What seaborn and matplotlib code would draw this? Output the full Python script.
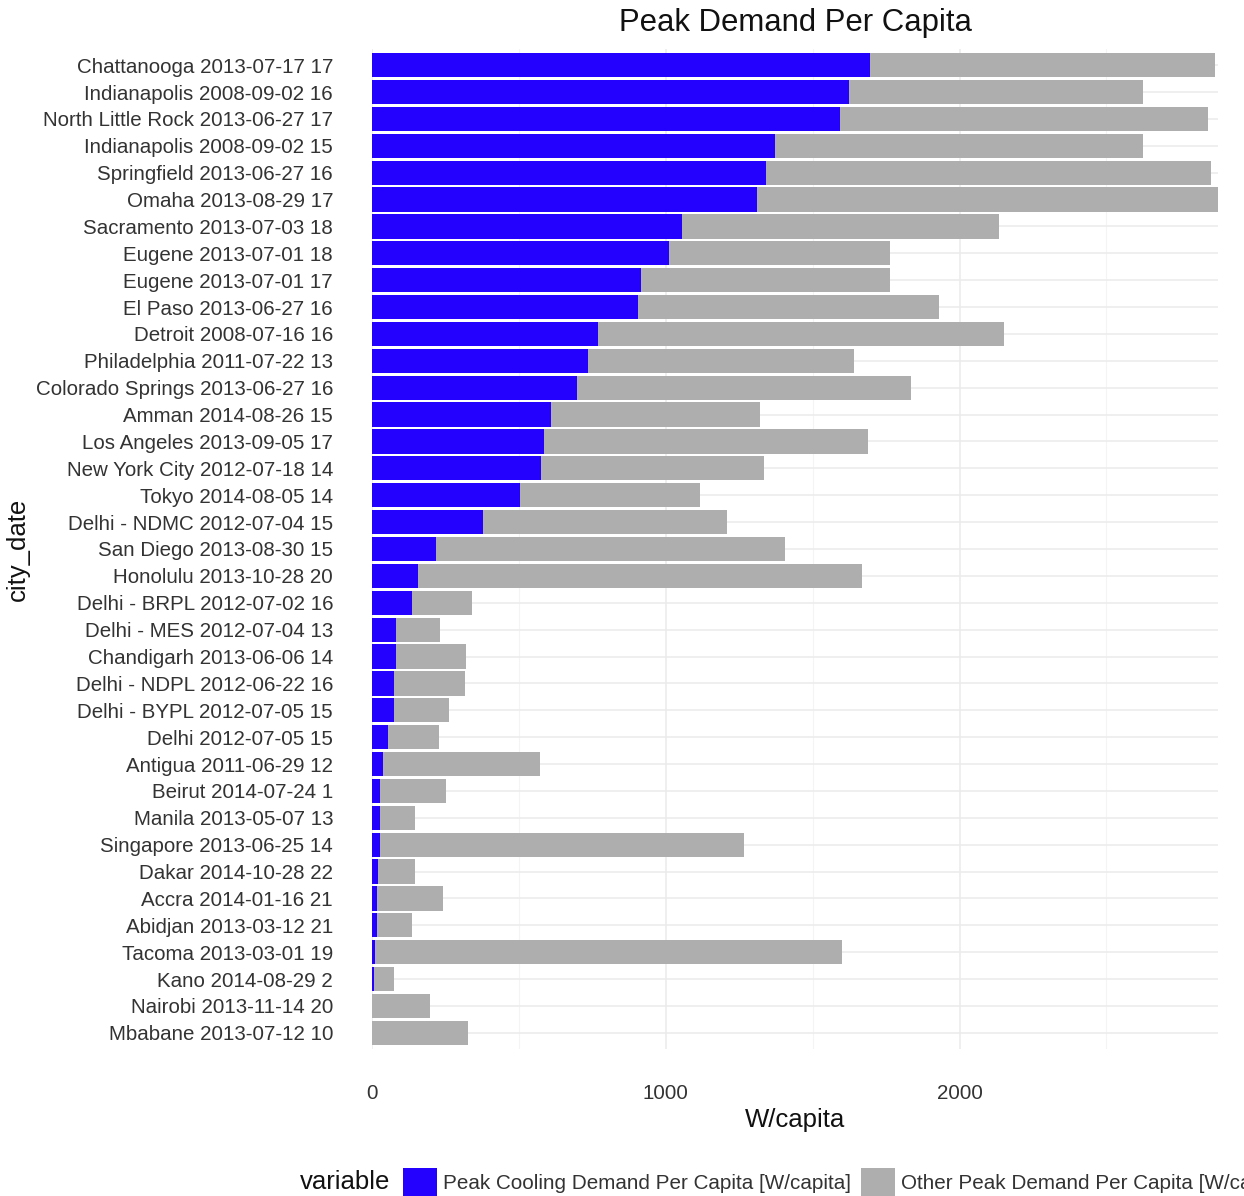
import matplotlib
matplotlib.use("Agg")
import matplotlib.pyplot as plt
from matplotlib.patches import Patch
from matplotlib.ticker import MultipleLocator
import numpy as np
import pandas as pd
import seaborn as sns

# City / date / hour of the peak, top to bottom
city_date = [
    "Chattanooga 2013-07-17 17", "Indianapolis 2008-09-02 16",
    "North Little Rock 2013-06-27 17", "Indianapolis 2008-09-02 15",
    "Springfield 2013-06-27 16", "Omaha 2013-08-29 17",
    "Sacramento 2013-07-03 18", "Eugene 2013-07-01 18",
    "Eugene 2013-07-01 17", "El Paso 2013-06-27 16",
    "Detroit 2008-07-16 16", "Philadelphia 2011-07-22 13",
    "Colorado Springs 2013-06-27 16", "Amman 2014-08-26 15",
    "Los Angeles 2013-09-05 17", "New York City 2012-07-18 14",
    "Tokyo 2014-08-05 14", "Delhi - NDMC 2012-07-04 15",
    "San Diego 2013-08-30 15", "Honolulu 2013-10-28 20",
    "Delhi - BRPL 2012-07-02 16", "Delhi - MES 2012-07-04 13",
    "Chandigarh 2013-06-06 14", "Delhi - NDPL 2012-06-22 16",
    "Delhi - BYPL 2012-07-05 15", "Delhi 2012-07-05 15",
    "Antigua 2011-06-29 12", "Beirut 2014-07-24 1",
    "Manila 2013-05-07 13", "Singapore 2013-06-25 14",
    "Dakar 2014-10-28 22", "Accra 2014-01-16 21",
    "Abidjan 2013-03-12 21", "Tacoma 2013-03-01 19",
    "Kano 2014-08-29 2", "Nairobi 2013-11-14 20",
    "Mbabane 2013-07-12 10",
]

# Peak cooling demand per capita [W/capita]
cooling = [
    1694, 1623, 1593, 1371, 1340, 1309, 1056, 1011, 917, 906,
    769, 736, 697, 610, 586, 576, 505, 378, 219, 158,
    137, 82, 82, 76, 76, 56, 38, 27, 27, 27,
    21, 17, 17, 11, 6, 0, 0,
]

# Remaining (non-cooling) peak demand per capita [W/capita]
other = [
    1176, 1002, 1253, 1254, 1516, 1571, 1079, 753, 847, 1025,
    1381, 906, 1139, 710, 1102, 758, 610, 832, 1187, 1511,
    202, 149, 239, 241, 186, 173, 533, 225, 120, 1239,
    126, 224, 119, 1589, 69, 196, 327,
]

legend_labels = [
    "Peak Cooling Demand Per Capita [W/capita]",
    "Other Peak Demand Per Capita [W/capita]",
]

df = pd.DataFrame({"city_date": city_date, "cooling": cooling, "other": other})
df["total"] = df["cooling"] + df["other"]

BLUE = "#2400FF"
GRAY = "#AEAEAE"
TEXT = "#333333"

sns.set_theme(style="white")
plt.rcParams["font.family"] = ["Liberation Sans", "DejaVu Sans"]

W, H = 1244, 1196
fig = plt.figure(figsize=(W / 100, H / 100), dpi=100)
fig.patch.set_facecolor("white")

left, right, top, bottom = 372, 1218, 49, 1049
ax = fig.add_axes([left / W, 1 - bottom / H, (right - left) / W, (bottom - top) / H])

# Stacked bars: full total in gray, cooling share drawn over it in blue
sns.barplot(data=df, y="city_date", x="total", order=city_date, orient="h",
            color=GRAY, saturation=1, width=0.9, ax=ax, errorbar=None)
sns.barplot(data=df, y="city_date", x="cooling", order=city_date, orient="h",
            color=BLUE, saturation=1, width=0.9, ax=ax, errorbar=None)
for p in ax.patches:
    p.set_edgecolor("none")

n = len(city_date)
ax.set_ylim(n - 1 + 0.6, -0.6)
ax.set_xlim(0, df["total"].max())

ax.xaxis.set_major_locator(MultipleLocator(1000))
ax.xaxis.set_minor_locator(MultipleLocator(500))
ax.set_axisbelow(True)
ax.grid(True, which="major", axis="both", color="#EBEBEB", linewidth=1.1)
ax.grid(True, which="minor", axis="x", color="#F4F4F4", linewidth=0.8)
for s in ax.spines.values():
    s.set_visible(False)

ax.tick_params(axis="both", which="both", length=0, labelcolor=TEXT, labelsize=14.8)
ax.tick_params(axis="y", pad=28)
ax.tick_params(axis="x", pad=25)

ax.set_xlabel("W/capita", fontsize=18.5, color="#111111")
ax.xaxis.set_label_coords(0.5, (bottom - 1120) / (bottom - top))
ax.xaxis.label.set_va("center")
ax.set_ylabel("city_date", fontsize=18.5, color="#111111")
ax.yaxis.set_label_coords((18 - left) / (right - left), 0.5)
ax.yaxis.label.set_va("center")

ax.set_title("Peak Demand Per Capita", fontsize=22.4, color="#111111",
             y=(bottom - 23) / (bottom - top), va="center", pad=0)

# Legend laid out horizontally below the panel, title on the left
fig.text(345 / W, 1 - 1182 / H, "variable", fontsize=18.5, color="#111111",
         ha="center", va="center")
handles = [Patch(facecolor=BLUE, edgecolor="none"), Patch(facecolor=GRAY, edgecolor="none")]
fig.legend(handles, legend_labels, loc="center left",
           bbox_to_anchor=(403 / W, 1 - 1182 / H), ncol=2, frameon=False,
           fontsize=14.85, labelcolor=TEXT, handlelength=1.65, handleheight=1.65,
           handletextpad=0.3, columnspacing=0.45, borderpad=0, borderaxespad=0)

fig.savefig("out.png", dpi=100, facecolor="white")
